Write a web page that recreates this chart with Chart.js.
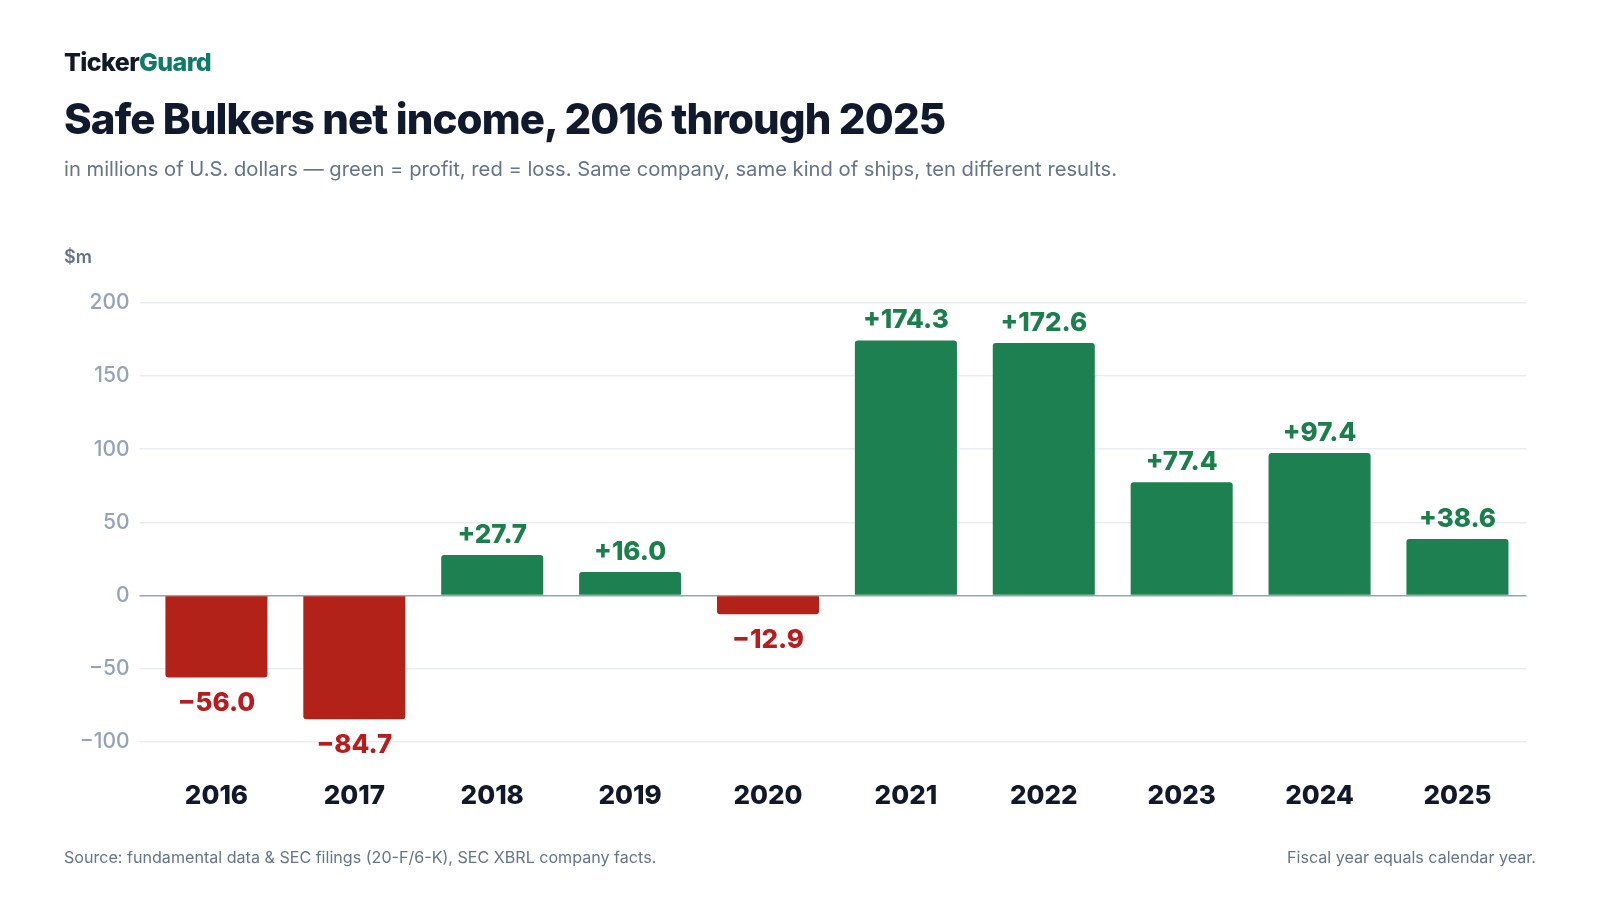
<!DOCTYPE html>
<html>
<head>
<meta charset="utf-8">
<script src="https://cdn.jsdelivr.net/npm/chart.js@4.4.1/dist/chart.umd.min.js"></script>
<style>
  html, body { margin: 0; padding: 0; background: #fff; }
  body { width: 1600px; height: 900px; position: relative; overflow: hidden; font-family: Inter, "Noto Sans", sans-serif; }
  .brand { position: absolute; left: 64px; top: 47px; font-size: 25px; font-weight: 800; letter-spacing: -0.6px; color: #111827; }
  .brand span { color: #0f7b67; }
  h1 { position: absolute; left: 64px; top: 93px; margin: 0; font-size: 42px; font-weight: 800; letter-spacing: -0.9px; color: #111a2c; }
  .sub { position: absolute; left: 64px; top: 156px; font-size: 20.2px; color: #64748b; }
  .unit { position: absolute; left: 64px; top: 246px; font-size: 18px; font-weight: 600; color: #64748b; }
  .foot { position: absolute; top: 847px; font-size: 16.1px; color: #64748b; }
  #wrap { position: absolute; left: 0; top: 0; width: 1600px; height: 900px; }
</style>
</head>
<body>
<div id="wrap"><canvas id="chart"></canvas></div>
<div class="brand">Ticker<span>Guard</span></div>
<h1>Safe Bulkers net income, 2016 through 2025</h1>
<div class="sub">in millions of U.S. dollars — green = profit, red = loss. Same company, same kind of ships, ten different results.</div>
<div class="unit">$m</div>
<div class="foot" style="left:64px">Source: fundamental data &amp; SEC filings (20-F/6-K), SEC XBRL company facts.</div>
<div class="foot" style="right:64px">Fiscal year equals calendar year.</div>
<script>
// dados
const years = ["2016", "2017", "2018", "2019", "2020", "2021", "2022", "2023", "2024", "2025"];
const netIncome = [-56.0, -84.7, 27.7, 16.0, -12.9, 174.3, 172.6, 77.4, 97.4, 38.6];
const yTicks = [-100, -50, 0, 50, 100, 150, 200];

const GREEN = "#1c8050";
const RED = "#b22219";
const LABEL_GREEN = "#1a7f4b";
const LABEL_RED = "#b91c1c";

function fmt(v) {
  return (v < 0 ? "\u2212" : "+") + Math.abs(v).toFixed(1);
}

// rótulos em cima/baixo das barras
const valueLabels = {
  id: "valueLabels",
  afterDatasetsDraw(chart) {
    const c = chart.ctx;
    const meta = chart.getDatasetMeta(0);
    c.save();
    c.font = "800 26px Inter, sans-serif";
    c.textAlign = "center";
    c.textBaseline = "middle";
    meta.data.forEach((bar, i) => {
      const v = netIncome[i];
      c.fillStyle = v < 0 ? LABEL_RED : LABEL_GREEN;
      c.fillText(fmt(v), bar.x, v < 0 ? bar.y + 26 : bar.y - 20);
    });
    c.restore();
  }
};

new Chart(document.getElementById("chart"), {
  type: "bar",
  data: {
    labels: years,
    datasets: [{
      data: netIncome,
      backgroundColor: netIncome.map(v => v < 0 ? RED : GREEN),
      borderRadius: 3,
      borderSkipped: "start",
      categoryPercentage: 1,
      barPercentage: 0.74
    }]
  },
  options: {
    responsive: true,
    maintainAspectRatio: false,
    animation: false,
    layout: { padding: { left: 60, right: 73.6, top: 303, bottom: 81.7 } },
    plugins: { legend: { display: false }, tooltip: { enabled: false } },
    scales: {
      x: {
        grid: { display: false, drawTicks: false },
        border: { display: false },
        ticks: { color: "#111827", font: { family: "Inter", size: 26, weight: "800" }, padding: 2 },
        afterFit(axis) { axis.height = 40; }
      },
      y: {
        min: -125,
        max: 200,
        afterBuildTicks(axis) { axis.ticks = yTicks.map(v => ({ value: v })); },
        grid: {
          color: ctx => ctx.tick && ctx.tick.value === 0 ? "#94a3b8" : "#e9edf2",
          lineWidth: 1.5,
          drawTicks: true,
          tickLength: 8
        },
        border: { display: false },
        ticks: {
          color: "#94a3b8",
          font: { family: "Inter", size: 21, weight: "500" },
          padding: 10,
          callback: v => (v < 0 ? "\u2212" + Math.abs(v) : String(v))
        },
        afterFit(axis) { axis.width = 87.5; }
      }
    }
  },
  plugins: [valueLabels]
});
</script>
</body>
</html>
